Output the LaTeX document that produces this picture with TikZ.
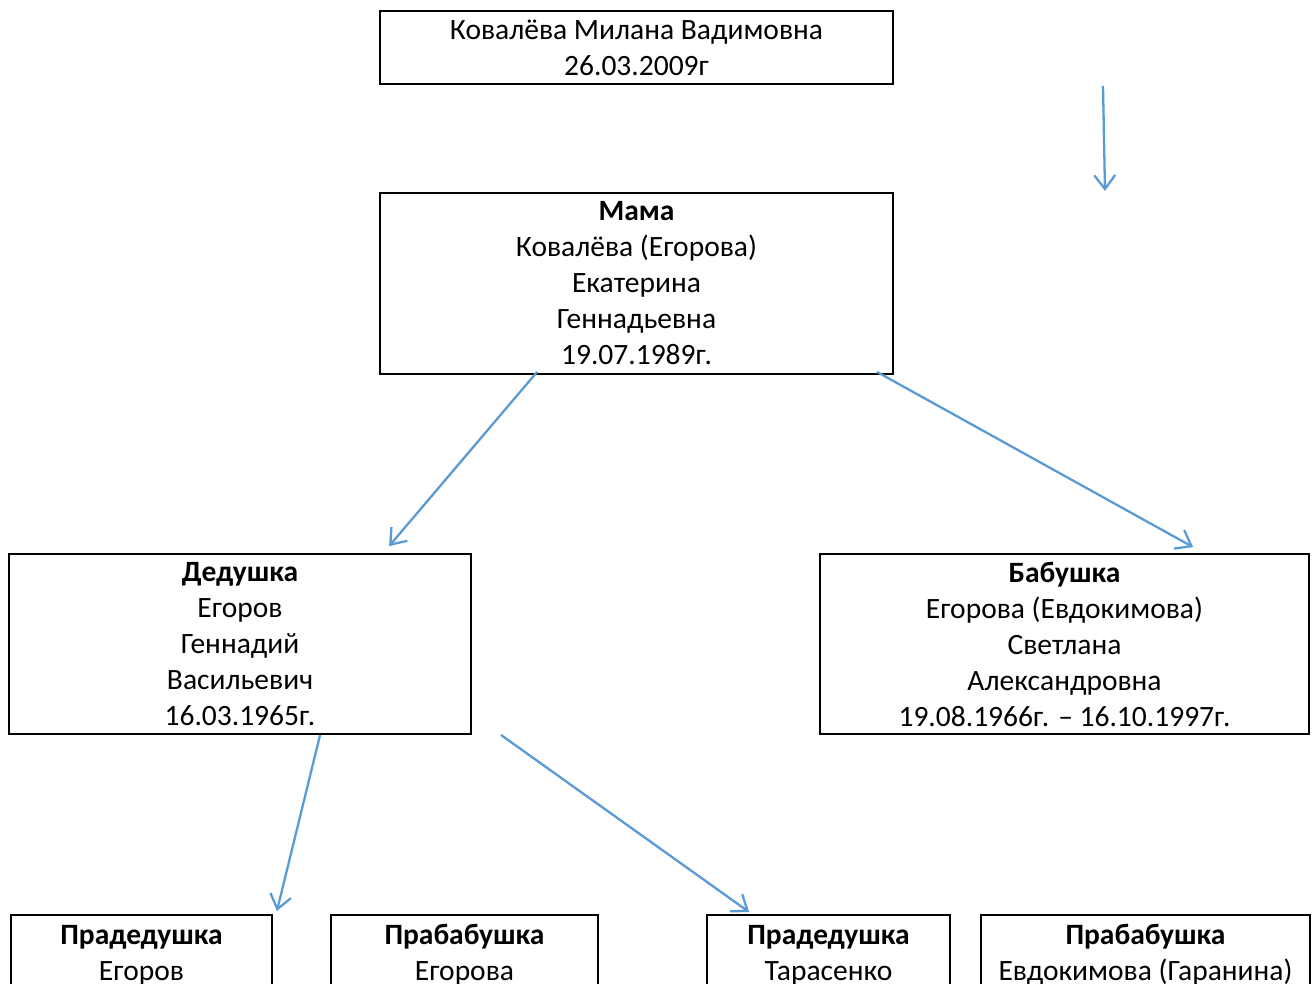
\documentclass[tikz,border=0pt]{standalone}
\usepackage{fontspec}
\setmainfont{Carlito}
\usetikzlibrary{arrows.meta}

\begin{document}
\begin{tikzpicture}[x=1pt, y=-1pt,
  box/.style={draw, line width=1.8pt, align=center, inner sep=0pt, font=\fontsize{29.5}{36}\selectfont},
  lowbox/.style={box, anchor=north, text height=66pt, text depth=150pt},
  link/.style={draw={rgb,255:red,91;green,155;blue,213}, line width=2.3pt, -{Straight Barb[length=14pt, width=21pt]}}]

\clip (0,0) rectangle (1316,983);
\fill[white] (0,0) rectangle (1316,983);

%Child
\node[box, minimum width=513, minimum height=73] (kid) at (636.5,47.5) {Ковалёва Милана Вадимовна\\26.03.2009г};

%Parents
\node[box, minimum width=513, minimum height=181] (mama) at (636.5,283.5) {\textbf{Мама}\\Ковалёва (Егорова)\\Екатерина\\Геннадьевна\\19.07.1989г.};

%Grandparents
\node[box, minimum width=462, minimum height=180] (ded) at (240,644) {\textbf{Дедушка}\\Егоров\\Геннадий\\Васильевич\\16.03.1965г.};
\node[box, minimum width=489, minimum height=180] (bab) at (1064.5,644) {\textbf{Бабушка}\\Егорова (Евдокимова)\\Светлана\\Александровна\\19.08.1966г. -- 16.10.1997г.};

%Great grandparents
\node[lowbox, minimum width=261] (pra1) at (141.5,914) {\textbf{Прадедушка}\\Егоров};
\node[lowbox, minimum width=267] (pra2) at (464.5,914) {\textbf{Прабабушка}\\Егорова};
\node[lowbox, minimum width=243] (pra3) at (828.5,914) {\textbf{Прадедушка}\\Тарасенко};
\node[lowbox, minimum width=329] (pra4) at (1145.5,914) {\textbf{Прабабушка}\\Евдокимова (Гаранина)};

// Arrows
\coordinate (free1) at (1103,86);
\coordinate (free2) at (1105,191);
\draw[link] (free1) -- (free2);
\draw[link] ([xshift=158pt, yshift=3pt]mama.south west) -- ([xshift=381pt, yshift=7pt]ded.north west);
\draw[link] ([xshift=-17pt, yshift=3pt]mama.south east) -- ([xshift=374pt, yshift=6pt]bab.north west);
\draw[link] ([xshift=312pt]ded.south west) -- ([xshift=4pt, yshift=3pt]pra1.north east);
\draw[link] ([xshift=29pt]ded.south east) -- ([xshift=43pt, yshift=2pt]pra3.north west);

\end{tikzpicture}
\end{document}
